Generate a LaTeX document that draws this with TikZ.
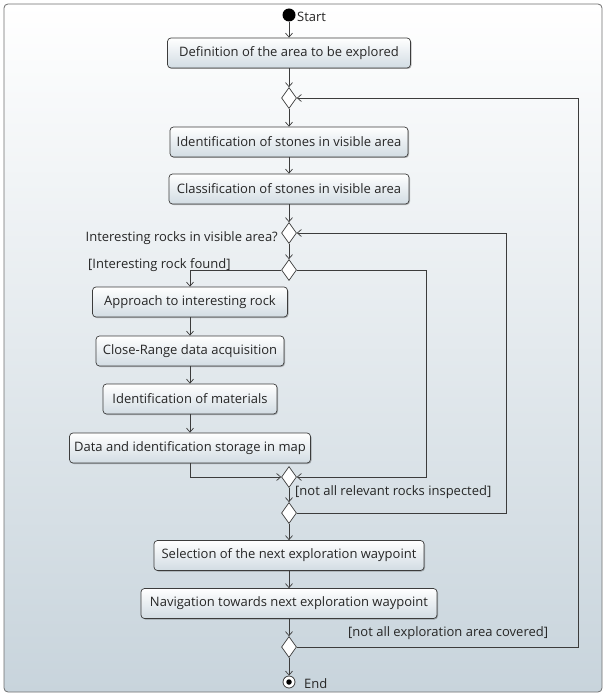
\documentclass[tikz,border=0pt]{standalone}
\usepackage{fontspec}
\setmainfont{Open Sans}
\usetikzlibrary{arrows.meta,shapes.geometric,shadows}
\definecolor{linec}{HTML}{3C3C3C}
\definecolor{boxbot}{HTML}{D2DCE3}
\definecolor{bgbot}{HTML}{C8D4DC}
\definecolor{framec}{HTML}{6E6E6E}
\tikzset{
  actbox/.style={draw=linec, line width=0.7pt, rounded corners=3.5pt, top color=white, bottom color=boxbot,
    minimum height=30pt, inner sep=0pt, font=\fontsize{13}{15}\selectfont, text=black!85,
    drop shadow={shadow xshift=1pt, shadow yshift=-1pt, opacity=0.25, fill=black}},
  decis/.style={diamond, draw=linec, line width=0.7pt, fill=white, minimum width=15pt, minimum height=21pt, inner sep=0pt},
  flow/.style={draw=linec, line width=0.7pt, -{Straight Barb[length=4pt,width=7pt]}},
  plain/.style={draw=linec, line width=0.7pt},
  lbl/.style={font=\fontsize{13}{15}\selectfont, text=black!85, inner sep=0pt}
}
\begin{document}
\begin{tikzpicture}[x=1pt,y=-1pt]
\useasboundingbox (0,0) rectangle (604,695);
\draw[framec, line width=0.8pt, rounded corners=4pt, top color=white, bottom color=bgbot] (4,4) rectangle (602,692);

% start and end
\node[circle, fill=black, minimum size=13pt, inner sep=0pt] (start) at (289,15) {};
\node[lbl, anchor=west] (startl) at (297,17) {Start};
\node[circle, draw=linec, line width=0.8pt, fill=white, minimum size=12pt, inner sep=0pt] (endn) at (289,682) {};
\node[circle, fill=black, minimum size=5.5pt, inner sep=0pt] (endin) at (289,682) {};
\node[lbl, anchor=west] (endl) at (304,684) {End};

% actions
\node[actbox, minimum width=243pt] (b1) at (289,53) {Definition of the area to be explored};
\node[actbox, minimum width=238pt] (b2) at (289,142) {Identification of stones in visible area};
\node[actbox, minimum width=240pt] (b3) at (289,189) {Classification of stones in visible area};
\node[actbox, minimum width=195pt] (b4) at (190,302) {Approach to interesting rock};
\node[actbox, minimum width=188pt] (b5) at (190,351) {Close-Range data acquisition};
\node[actbox, minimum width=174pt] (b6) at (190,399) {Identification of materials};
\node[actbox, minimum width=241pt] (b7) at (190,448) {Data and identification storage in map};
\node[actbox, minimum width=270pt] (b8) at (289,555.5) {Selection of the next exploration waypoint};
\node[actbox, minimum width=296pt] (b9) at (289,603.5) {Navigation towards next exploration waypoint};

% decisions
\node[decis] (d1) at (289,98) {};
\node[decis] (d2) at (289,233) {};
\node[decis] (d3) at (289,270) {};
\node[decis] (d4) at (289,477) {};
\node[decis] (d5) at (289,513) {};
\node[decis] (d6) at (289,647) {};

% return corridors
\coordinate (r1) at (426,270);
\coordinate (r2) at (506,513);
\coordinate (r3) at (578,647);

% labels
\node[lbl, anchor=east] (q1) at (278,238) {Interesting rocks in visible area?};
\node[lbl, anchor=west] (g1) at (88,265) {[Interesting rock found]};
\node[lbl, anchor=west] (g2) at (295,492) {[not all relevant rocks inspected]};
\node[lbl, anchor=west] (g3) at (348,633) {[not all exploration area covered]};

% flows
\draw[flow] (start) -- (b1);
\draw[flow] (b1) -- (d1);
\draw[flow] (d1) -- (b2);
\draw[flow] (b2) -- (b3);
\draw[flow] (b3) -- (d2);
\draw[flow] (d2) -- (d3);
\draw[flow] (d3.west) -| (b4.north);
\draw[flow] (b4) -- (b5);
\draw[flow] (b5) -- (b6);
\draw[flow] (b6) -- (b7);
\draw[flow] (b7.south) |- (d4.west);
\draw[flow] (d3.east) -- (r1) |- (d4.east);
\draw[flow] (d4) -- (d5);
\draw[flow] (d5.east) -- (r2) |- (d2.east);
\draw[flow] (d5) -- (b8);
\draw[flow] (b8) -- (b9);
\draw[flow] (b9) -- (d6);
\draw[flow] (d6) -- (endn);
\draw[flow] (d6.east) -- (r3) |- (d1.east);
\end{tikzpicture}
\end{document}
